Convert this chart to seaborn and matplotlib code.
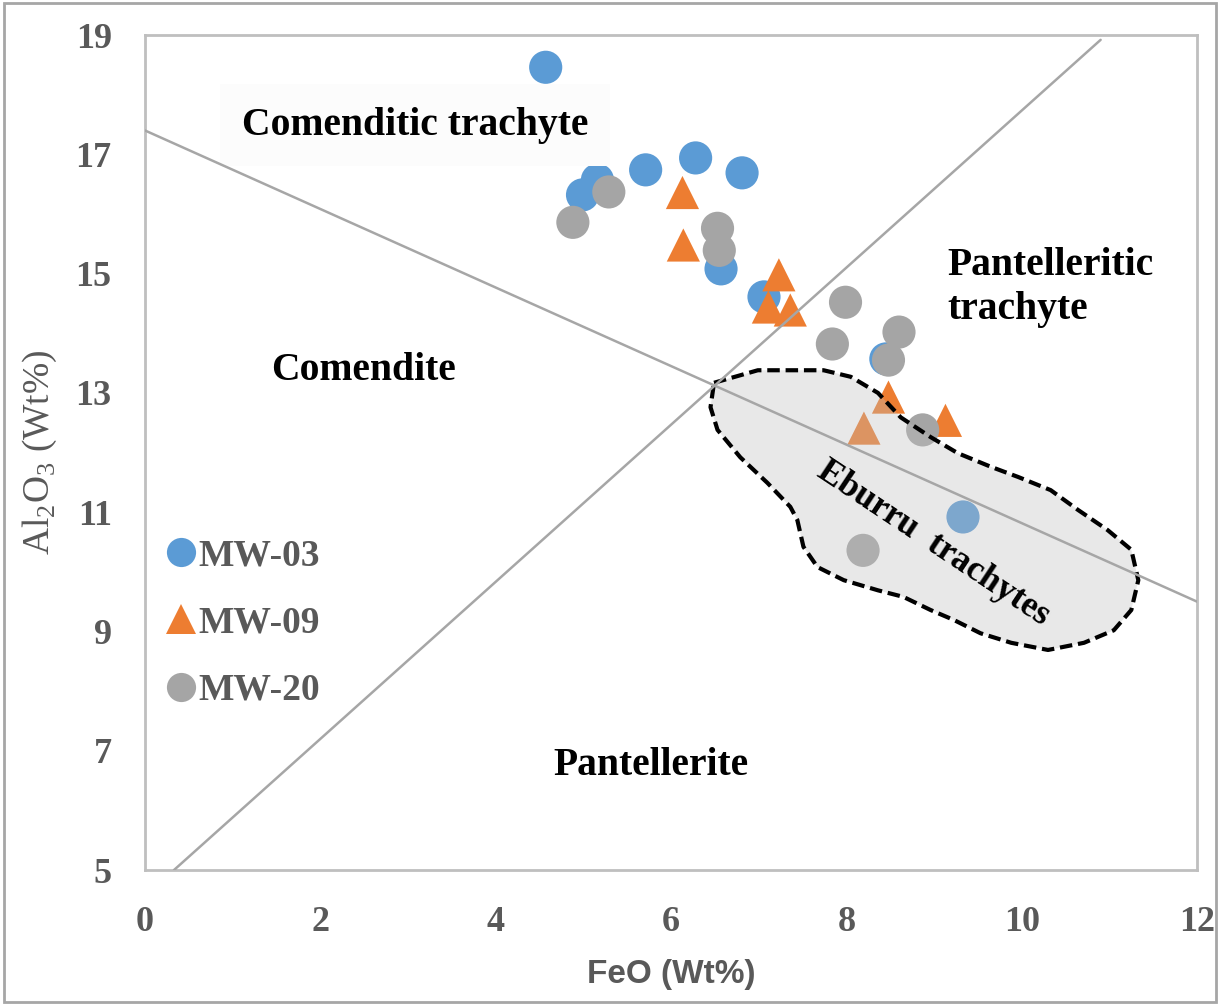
import numpy as np
import pandas as pd
import matplotlib
matplotlib.use("Agg")
import matplotlib.pyplot as plt
from matplotlib.patches import Rectangle
from matplotlib.font_manager import FontProperties
import seaborn as sns

# sample groups, FeO vs Al2O3 (wt%)
mw03_feo = [4.57, 4.99, 5.16, 5.71, 6.28, 6.81, 6.57, 7.06, 8.45, 9.33]
mw03_al = [18.46, 16.32, 16.57, 16.74, 16.94, 16.69, 15.08, 14.61, 13.57, 10.92]
mw09_feo = [6.13, 6.14, 7.23, 7.11, 7.36, 8.48, 8.20, 9.13]
mw09_al = [16.36, 15.48, 14.98, 14.44, 14.39, 12.93, 12.41, 12.54]
mw20_feo = [4.88, 5.29, 6.53, 6.55, 7.99, 7.84, 8.60, 8.48, 8.87, 8.19]
mw20_al = [15.86, 16.37, 15.76, 15.39, 14.52, 13.82, 14.02, 13.55, 12.38, 10.36]
groups = ["MW-03", "MW-09", "MW-20"]

# classification boundary lines
line1_x = [0, 12]
line1_y = [17.4, 9.5]
line2_x = [0.33, 10.9]
line2_y = [5, 18.92]

# Eburru trachytes field outline
eburru_x = [6.49, 6.99, 7.74, 8.05, 8.36, 8.62, 8.96, 9.27, 9.65, 9.96, 10.33, 10.64,
            10.98, 11.25, 11.33, 11.25, 11.05, 10.71, 10.30, 9.88, 9.53, 9.23, 8.96,
            8.65, 8.36, 7.97, 7.67, 7.51, 7.44, 7.36, 7.10, 6.79, 6.53, 6.45, 6.49]
eburru_y = [13.17, 13.38, 13.38, 13.27, 13.00, 12.59, 12.26, 11.99, 11.76, 11.59, 11.37, 11.04,
            10.70, 10.37, 9.86, 9.36, 9.02, 8.81, 8.69, 8.81, 8.97, 9.19, 9.36,
            9.58, 9.69, 9.86, 10.08, 10.42, 10.87, 11.09, 11.49, 11.92, 12.38, 12.76, 13.17]

xticks = [0, 2, 4, 6, 8, 10, 12]
yticks = [5, 7, 9, 11, 13, 15, 17, 19]

df = pd.DataFrame({
    "FeO": mw03_feo + mw09_feo + mw20_feo,
    "Al2O3": mw03_al + mw09_al + mw20_al,
    "sample": ["MW-03"] * len(mw03_feo) + ["MW-09"] * len(mw09_feo) + ["MW-20"] * len(mw20_feo),
})

sns.set_style("white")
plt.rcParams['font.family'] = ['Liberation Serif', 'DejaVu Serif']
plt.rcParams['mathtext.fontset'] = 'custom'
plt.rcParams['mathtext.rm'] = 'Liberation Serif'

grey_txt = '#595959'
frame = '#bfbfbf'

fig = plt.figure(figsize=(12.2, 10.05), dpi=100)
ax = fig.add_axes([0.1189, 0.1343, 0.8623, 0.8308])

palette = {"MW-03": "#5b9bd5", "MW-09": "#ed7d31", "MW-20": "#a5a5a5"}
markers = {"MW-03": "o", "MW-09": "^", "MW-20": "o"}
sns.scatterplot(data=df, x="FeO", y="Al2O3", hue="sample", style="sample",
                palette=palette, markers=markers, s=570, linewidth=0, ax=ax, zorder=2)

# Eburru field
ax.fill(eburru_x, eburru_y, facecolor='#bfbfbf', alpha=0.35, edgecolor='none', zorder=3)
ax.plot(eburru_x, eburru_y, color='black', lw=3, dashes=(3, 1.4), zorder=3)

ax.plot(line1_x, line1_y, color='#a6a6a6', lw=1.8, zorder=4)
ax.plot(line2_x, line2_y, color='#a6a6a6', lw=1.8, zorder=4)

ax.set_xlim(0, 12)
ax.set_ylim(5, 19)
ax.set_xticks(xticks)
ax.set_yticks(yticks)
tick_font = dict(family='Liberation Serif', weight='bold', size=26)
ax.set_xticklabels([str(t) for t in xticks], fontdict=tick_font, color=grey_txt)
ax.set_yticklabels([str(t) for t in yticks], fontdict=tick_font, color=grey_txt)
ax.tick_params(axis='both', direction='out', length=10, width=1.5, color=frame)
ax.tick_params(axis='x', pad=16)
ax.tick_params(axis='y', pad=14)
for sp in ax.spines.values():
    sp.set_color(frame)
    sp.set_linewidth(2)

ax.set_xlabel("FeO (Wt%)", family=['Liberation Sans', 'DejaVu Sans'], weight='bold',
              size=24, color=grey_txt, labelpad=14)
ax.set_ylabel(r"Al$_\mathrm{2}$O$_\mathrm{3}$ (Wt%)", family='Liberation Serif',
              size=27, color=grey_txt, labelpad=12)

lab = dict(family='Liberation Serif', weight='bold', size=28.5, color='black')
ax.text(3.08, 17.49, "Comenditic trachyte", ha='center', va='center', zorder=3.5,
        bbox=dict(facecolor='#fcfcfc', edgecolor='none', pad=16), **lab)
ax.text(9.15, 14.76, "Pantelleritic\ntrachyte", ha='left', va='center', linespacing=1.25,
        zorder=5, **lab)
ax.text(2.49, 13.38, "Comendite", ha='center', va='center', zorder=5, **lab)
ax.text(5.77, 6.76, "Pantellerite", ha='center', va='center', zorder=5, **lab)
ax.text(8.99, 10.48, "Eburru  trachytes", ha='center', va='center', rotation=-33.6,
        rotation_mode='anchor', zorder=5, **dict(lab, size=25.5))

leg = ax.get_legend()
handles = leg.legend_handles
labels = [t.get_text() for t in leg.get_texts()]
leg.remove()
ax.legend(handles, labels, loc='center left', bbox_to_anchor=(0.1026, 0.380),
          bbox_transform=fig.transFigure, frameon=False, markerscale=0.88,
          prop=FontProperties(family='Liberation Serif', weight='bold', size=27),
          labelcolor=grey_txt, handletextpad=-0.15, handlelength=1.2, labelspacing=0.86)

fig.patches.append(Rectangle((0.003, 0.003), 0.994, 0.994, transform=fig.transFigure,
                             fill=False, edgecolor='#a6a6a6', lw=2))

fig.savefig("out.png", dpi=100)
